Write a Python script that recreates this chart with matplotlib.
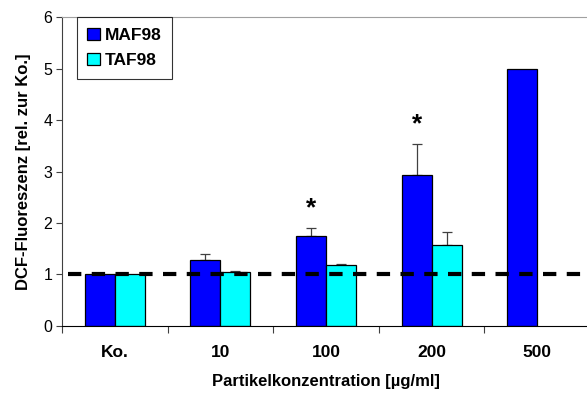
import matplotlib
matplotlib.use("Agg")
import matplotlib.pyplot as plt
import numpy as np

plt.rcParams['font.family'] = ['Liberation Sans', 'DejaVu Sans']

categories = ["Ko.", "10", "100", "200", "500"]
maf_values = [1.0, 1.28, 1.74, 2.93, 4.99]
maf_errors = [0.0, 0.12, 0.16, 0.60, 0.0]
taf_values = [1.0, 1.05, 1.18, 1.57, None]
taf_errors = [0.0, 0.02, 0.02, 0.26, 0.0]
significant = [False, False, True, True, False]
series_names = ["MAF98", "TAF98"]

fig = plt.figure(figsize=(5.87, 3.95), dpi=100)
ax = fig.add_axes([62/587, 1 - 325.7/395, 528/587, (325.7 - 17.3)/395])

x = np.arange(len(categories))
w = 0.284

maf_col = "#0000ff"
taf_col = "#00ffff"

ax.bar(x - w/2, maf_values, w, color=maf_col, edgecolor="black", linewidth=0.9,
       label=series_names[0], zorder=2)
tx = [xi for xi, v in zip(x, taf_values) if v is not None]
tv = [v for v in taf_values if v is not None]
ax.bar(np.array(tx) + w/2, tv, w, color=taf_col, edgecolor="black", linewidth=0.9,
       label=series_names[1], zorder=2)

# upward-only error bars
for xi, v, e in zip(x, maf_values, maf_errors):
    if e > 0:
        ax.errorbar(xi - w/2, v, yerr=[[0], [e]], fmt="none", ecolor="#404040",
                    elinewidth=0.9, capsize=3.3, capthick=0.9, zorder=1)
for xi, v, e in zip(x, taf_values, taf_errors):
    if v is not None and e > 0:
        ax.errorbar(xi + w/2, v, yerr=[[0], [e]], fmt="none", ecolor="#404040",
                    elinewidth=0.9, capsize=3.3, capthick=0.9, zorder=1)

# significance markers
for xi, v, e, s in zip(x, maf_values, maf_errors, significant):
    if s:
        ax.text(xi - w/2, v + e + 0.15, "*", ha="center", va="bottom",
                fontsize=19, fontweight="bold")

# control reference line
ax.axhline(1.0, xmin=6/528, color="black", linewidth=3.0,
           linestyle=(0, (3.2, 2.5)), zorder=3)

ax.set_xlim(-0.5, 4.5)
ax.set_ylim(0, 6)
ax.set_yticks(range(0, 7))
ax.tick_params(axis="y", direction="out", length=4, labelsize=11.5, width=0.8,
               color="#404040", pad=3)

ax.set_xticks(np.arange(-0.5, 4.0, 1.0))
ax.set_xticklabels([])
ax.tick_params(axis="x", which="major", direction="out", length=5, width=0.8,
               color="#404040")
ax.set_xticks(x, minor=True)
ax.set_xticklabels(categories, minor=True, fontweight="bold", fontsize=12.5)
ax.tick_params(axis="x", which="minor", length=0, pad=14)

ax.spines["right"].set_visible(False)
ax.spines["top"].set_color("#a0a0a0")
ax.spines["left"].set_color("#404040")
ax.spines["bottom"].set_color("black")

ax.set_ylabel("DCF-Fluoreszenz [rel. zur Ko.]", fontweight="bold", fontsize=12,
              labelpad=9)
ax.set_xlabel("Partikelkonzentration [µg/ml]", fontweight="bold", fontsize=12,
              labelpad=10)

leg = ax.legend(loc="upper left", bbox_to_anchor=(15/528, 1.0), frameon=True,
                fancybox=False, edgecolor="black", prop={"weight": "bold", "size": 12.5},
                handlelength=0.75, handleheight=0.75, handletextpad=0.25,
                borderpad=0.6, labelspacing=0.55, borderaxespad=0)
leg.get_frame().set_linewidth(0.8)

fig.savefig("out.png", dpi=100)
